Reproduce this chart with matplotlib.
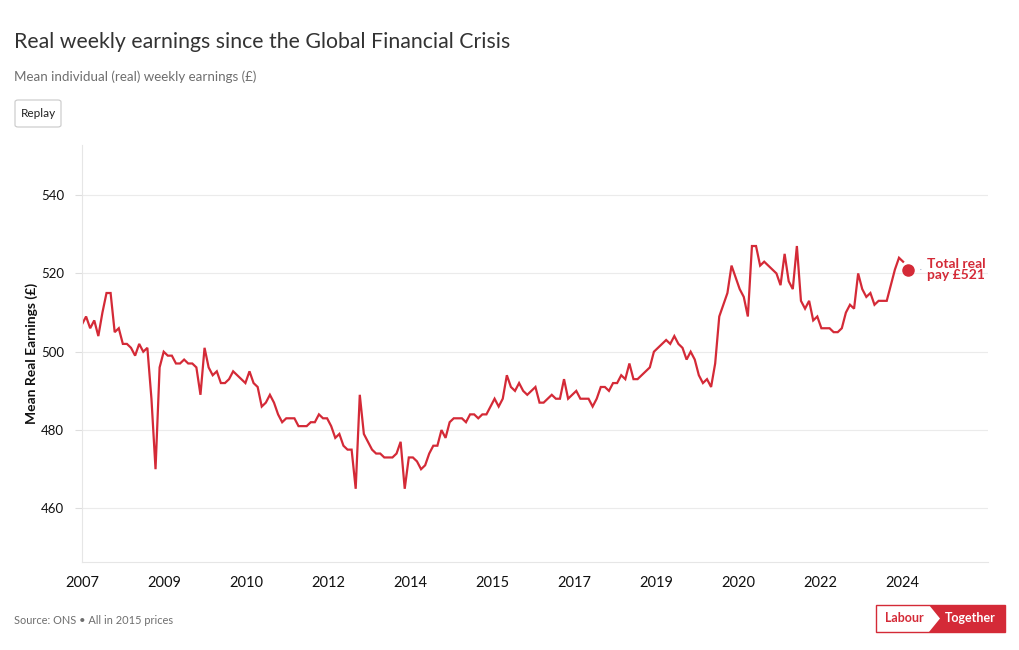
import matplotlib
matplotlib.use("Agg")
import matplotlib.pyplot as plt
from matplotlib.patches import Rectangle, Polygon, FancyBboxPatch
import numpy as np

plt.rcParams['font.family'] = ['Lato', 'DejaVu Sans']

# monthly mean real weekly earnings (£, 2015 prices)
earnings = [
    507, 509, 506, 508, 504, 510, 515, 515, 505, 506, 502, 502, 501, 499, 502, 500,
    501, 488, 470, 496, 500, 499, 499, 497, 497, 498, 497, 497, 496, 489, 501, 496,
    494, 495, 492, 492, 493, 495, 494, 493, 492, 495, 492, 491, 486, 487, 489, 487,
    484, 482, 483, 483, 483, 481, 481, 481, 482, 482, 484, 483, 483, 481, 478, 479,
    476, 475, 475, 465, 489, 479, 477, 475, 474, 474, 473, 473, 473, 474, 477, 465,
    473, 473, 472, 470, 471, 474, 476, 476, 480, 478, 482, 483, 483, 483, 482, 484,
    484, 483, 484, 484, 486, 488, 486, 488, 494, 491, 490, 492, 490, 489, 490, 491,
    487, 487, 488, 489, 488, 488, 493, 488, 489, 490, 488, 488, 488, 486, 488, 491,
    491, 490, 492, 492, 494, 493, 497, 493, 493, 494, 495, 496, 500, 501, 502, 503,
    502, 504, 502, 501, 498, 500, 498, 494, 492, 493, 491, 497, 509, 512, 515, 522,
    519, 516, 514, 509, 527, 527, 522, 523, 522, 521, 520, 517, 525, 518, 516, 527,
    513, 511, 513, 508, 509, 506, 506, 506, 505, 505, 506, 510, 512, 511, 520, 516,
    514, 515, 512, 513, 513, 513, 517, 521, 524, 523,
]
tick_labels = ['2007', '2009', '2010', '2012', '2014', '2015', '2017', '2019',
               '2020', '2022', '2024']
y_ticks = [460, 480, 500, 520, 540]
latest_value = 521

red = '#d42a37'
W, H = 1020, 650


def fx(px):
    return px / W


def fy(py):
    return 1 - py / H


fig = plt.figure(figsize=(10.2, 6.5), dpi=100)
ax = fig.add_axes([fx(82), fy(562), fx(988) - fx(82), fy(145) - fy(562)])

x = np.arange(len(earnings))
step = 82 / 4.085  # points per tick interval
ax.plot(x, earnings, color=red, lw=1.6, solid_joinstyle='miter')
dot_x = len(earnings) + 0.2
ax.plot([dot_x], [latest_value], 'o', color=red, ms=8)
ax.annotate('', xy=(dot_x, latest_value), xytext=(dot_x + 3.2, latest_value),
            arrowprops=dict(arrowstyle='-', color='#b8c4d6', lw=0.8,
                            shrinkA=0, shrinkB=9))
ax.annotate('Total real\npay £%d' % latest_value, xy=(dot_x, latest_value),
            xytext=(14, 0), textcoords='offset points', color=red,
            fontsize=10, fontweight='bold', va='center', ha='left', linespacing=0.95)

ax.set_xlim(0, (988 - 82) / 4.085)
ax.set_ylim(446.3, 552.8)
ax.set_xticks(np.arange(len(tick_labels)) * step)
ax.set_xticklabels(tick_labels, fontsize=10.5, color='#111111')
ax.set_yticks(y_ticks)
ax.set_yticklabels([str(v) for v in y_ticks], fontsize=9.5, color='#111111')
ax.tick_params(axis='x', length=0, pad=10)
ax.tick_params(axis='y', length=5, color='#dddddd', pad=8)
ax.grid(axis='y', color='#ebebeb', lw=0.8)
ax.set_axisbelow(True)
for s in ['top', 'right']:
    ax.spines[s].set_visible(False)
for s in ['left', 'bottom']:
    ax.spines[s].set_color('#e6e6e6')
ax.set_ylabel('Mean Real Earnings (£)', fontsize=10, fontweight='bold',
              color='#111111', labelpad=2)

# header
fig.text(fx(14), fy(42), 'Real weekly earnings since the Global Financial Crisis',
         fontsize=15.3, color='#333333', va='center', ha='left')
fig.text(fx(14), fy(77), 'Mean individual (real) weekly earnings (£)',
         fontsize=9.6, color='#6e6e6e', va='center', ha='left')
btn = FancyBboxPatch((fx(15), fy(127)), fx(61) - fx(15), fy(100) - fy(127),
                     boxstyle='round,pad=0,rounding_size=0.003',
                     transform=fig.transFigure, fc='white', ec='#c8c8c8', lw=0.8)
fig.patches.append(btn)
fig.text(fx(38), fy(113.5), 'Replay', fontsize=8.5, color='#222222',
         va='center', ha='center')

# footer
fig.text(fx(14), fy(621), 'Source: ONS • All in 2015 prices', fontsize=7.9,
         color='#6e6e6e', va='center', ha='left')
logo_box = Rectangle((fx(876), fy(632)), fx(1005) - fx(876), fy(605) - fy(632),
                     transform=fig.transFigure, fc='white', ec=red, lw=1)
fig.patches.append(logo_box)
logo_red = Polygon([(fx(929), fy(605)), (fx(1005), fy(605)), (fx(1005), fy(632)),
                    (fx(929), fy(632)), (fx(940), fy(618.5))],
                   closed=True, transform=fig.transFigure, fc=red, ec='none')
fig.patches.append(logo_red)
fig.text(fx(904), fy(618.5), 'Labour', fontsize=9, fontweight='bold', color=red,
         va='center', ha='center')
fig.text(fx(970), fy(618.5), 'Together', fontsize=9, fontweight='bold', color='white',
         va='center', ha='center')

fig.savefig('out.png', dpi=100)
